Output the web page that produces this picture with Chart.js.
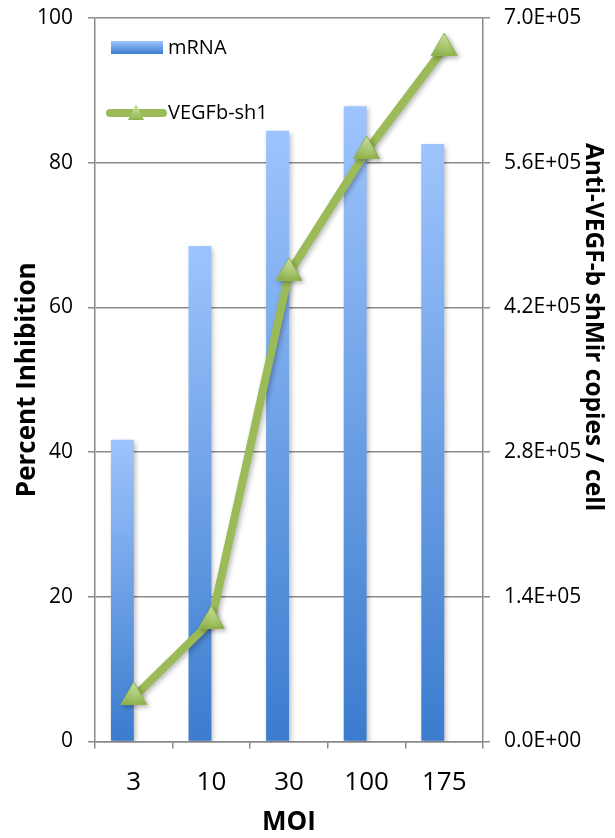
<!DOCTYPE html>
<html>
<head>
<meta charset="utf-8">
<script src="https://cdn.jsdelivr.net/npm/chart.js@4.4.1/dist/chart.umd.min.js"></script>
<style>
  html, body { margin: 0; padding: 0; background: #fff; }
  #wrap { width: 615px; height: 838px; }
</style>
</head>
<body>
<div id="wrap"><canvas id="moiChart" width="615" height="838"></canvas></div>
<script>
// MOI dose series
var categories = ['3', '10', '30', '100', '175'];
var mrnaInhibition = [41.7, 68.5, 84.4, 87.8, 82.6];
var shmirCopies = [43000, 116600, 453300, 571300, 671000];
var leftTicks = [0, 20, 40, 60, 80, 100];
var rightTicks = [0, 140000, 280000, 420000, 560000, 700000];
var rightTitle = 'Anti-VEGF-b shMir copies / cell';

var FONT = "'Open Sans', 'DejaVu Sans', sans-serif";
var GRID = '#8a8a8a';

function sciLabel(v) {
  var parts = Number(v).toExponential(1).split('e');
  var n = parseInt(parts[1], 10);
  return parts[0] + 'E' + (n < 0 ? '-' : '+') + String(Math.abs(n)).padStart(2, '0');
}

// bar fill: light at the top of each bar, darker at its base
function barFill(c) {
  var ch = c.chart;
  if (!ch.chartArea || c.type !== 'data') return '#6d9fe6';
  var ys = ch.scales.y;
  var top = ys.getPixelForValue(c.raw);
  var bot = ys.getPixelForValue(0);
  var g = ch.ctx.createLinearGradient(0, top, 0, bot);
  g.addColorStop(0, '#9ec4fd');
  g.addColorStop(1, '#3b7cce');
  return g;
}

function markerFill(c) {
  var ch = c.chart;
  if (!ch.chartArea || c.type !== 'data') return '#a9cc63';
  var y = ch.scales.y2.getPixelForValue(c.raw);
  var g = ch.ctx.createLinearGradient(0, y - 15, 0, y + 8);
  g.addColorStop(0, '#d4eca6');
  g.addColorStop(1, '#8fb34c');
  return g;
}

// soft drop shadow under bars and line
var shadowPlugin = {
  id: 'shadow',
  beforeDatasetDraw: function (chart) {
    var ctx = chart.ctx;
    ctx.save();
    ctx.shadowColor = 'rgba(0,0,0,0.28)';
    ctx.shadowBlur = 5;
    ctx.shadowOffsetX = 2;
    ctx.shadowOffsetY = 2;
  },
  afterDatasetDraw: function (chart) {
    chart.ctx.restore();
  }
};

// legend sits inside the plot, top left; right axis title sits high
var extras = {
  id: 'extras',
  afterDraw: function (chart) {
    var ctx = chart.ctx;
    var bars = chart.data.datasets[0];
    var line = chart.data.datasets[2];
    ctx.save();
    var g = ctx.createLinearGradient(0, 41, 0, 54);
    g.addColorStop(0, '#9ec4fd');
    g.addColorStop(1, '#3b7cce');
    ctx.fillStyle = g;
    ctx.fillRect(111, 41, 52, 13);

    ctx.strokeStyle = '#9bbb59';
    ctx.lineWidth = 8;
    ctx.lineCap = 'round';
    ctx.beginPath();
    ctx.moveTo(110, 113);
    ctx.lineTo(163, 113);
    ctx.stroke();
    var tg = ctx.createLinearGradient(0, 104, 0, 120);
    tg.addColorStop(0, '#d4eca6');
    tg.addColorStop(1, '#8fb34c');
    ctx.fillStyle = tg;
    ctx.beginPath();
    ctx.moveTo(136, 104);
    ctx.lineTo(144, 120);
    ctx.lineTo(128, 120);
    ctx.closePath();
    ctx.fill();

    ctx.fillStyle = '#000';
    ctx.font = '20px ' + FONT;
    ctx.textBaseline = 'middle';
    ctx.textAlign = 'left';
    ctx.fillText(bars.label, 168, 48);
    ctx.fillText(line.label, 168, 113);

    ctx.translate(593, 327);
    ctx.rotate(Math.PI / 2);
    ctx.textAlign = 'center';
    ctx.font = 'bold 24.5px ' + FONT;
    ctx.fillText(rightTitle, 0, 0);
    ctx.restore();
  }
};

// fixed axis widths; keep tick padding from pushing the plot top down
function fitLeft(s) { s.width = 95; s.paddingTop = 10; }
function fitRight(s) { s.width = 132; s.paddingTop = 10; }

Chart.defaults.font.family = FONT;
Chart.defaults.color = '#000';

new Chart(document.getElementById('moiChart'), {
  type: 'bar',
  data: {
    labels: categories,
    datasets: [
      {
        label: 'mRNA',
        data: mrnaInhibition,
        yAxisID: 'y',
        backgroundColor: barFill,
        borderWidth: 0,
        categoryPercentage: 0.59,
        barPercentage: 1,
        order: 2
      },
      {
        // empty slot that keeps the bars left of the category centre
        label: '',
        data: categories.map(function () { return null; }),
        yAxisID: 'y',
        categoryPercentage: 0.59,
        barPercentage: 1,
        order: 2
      },
      {
        type: 'line',
        label: 'VEGFb-sh1',
        data: shmirCopies,
        yAxisID: 'y2',
        borderColor: '#9bbb59',
        borderWidth: 8,
        borderJoinStyle: 'round',
        borderCapStyle: 'round',
        tension: 0,
        pointStyle: 'triangle',
        pointRadius: 15,
        pointBackgroundColor: markerFill,
        pointBorderColor: '#93b555',
        pointBorderWidth: 1,
        order: 0
      }
    ]
  },
  options: {
    responsive: false,
    animation: false,
    layout: { padding: { top: 18, left: 0, right: 0, bottom: 0 } },
    plugins: {
      legend: { display: false },
      tooltip: { enabled: false }
    },
    scales: {
      x: {
        offset: true,
        grid: {
          offset: true,
          drawOnChartArea: false,
          drawTicks: true,
          tickLength: 7,
          color: GRID,
          lineWidth: 1.5
        },
        border: { color: GRID, width: 1.5 },
        ticks: { font: { size: 26 }, padding: 18 },
        title: {
          display: true,
          text: 'MOI',
          font: { size: 26, weight: 'bold' },
          padding: 0
        },
        afterFit: function (s) { s.height = 96.5; }
      },
      y: {
        position: 'left',
        min: 0,
        max: 100,
        afterBuildTicks: function (s) { s.ticks = leftTicks.map(function (v) { return { value: v }; }); },
        grid: { color: GRID, lineWidth: 1.5, tickLength: 7 },
        border: { color: GRID, width: 1.5 },
        ticks: { font: { size: 21 }, padding: 15 },
        title: {
          display: true,
          text: 'Percent Inhibition',
          font: { size: 26, weight: 'bold' },
          padding: { top: 12, bottom: 0 }
        },
        afterFit: fitLeft
      },
      y2: {
        position: 'right',
        min: 0,
        max: 700000,
        afterBuildTicks: function (s) { s.ticks = rightTicks.map(function (v) { return { value: v }; }); },
        grid: { drawOnChartArea: false, color: GRID, lineWidth: 1.5, tickLength: 7 },
        border: { color: GRID, width: 1.5 },
        ticks: { font: { size: 21 }, padding: 14, callback: sciLabel },
        afterFit: fitRight
      }
    }
  },
  plugins: [shadowPlugin, extras]
});
</script>
</body>
</html>
